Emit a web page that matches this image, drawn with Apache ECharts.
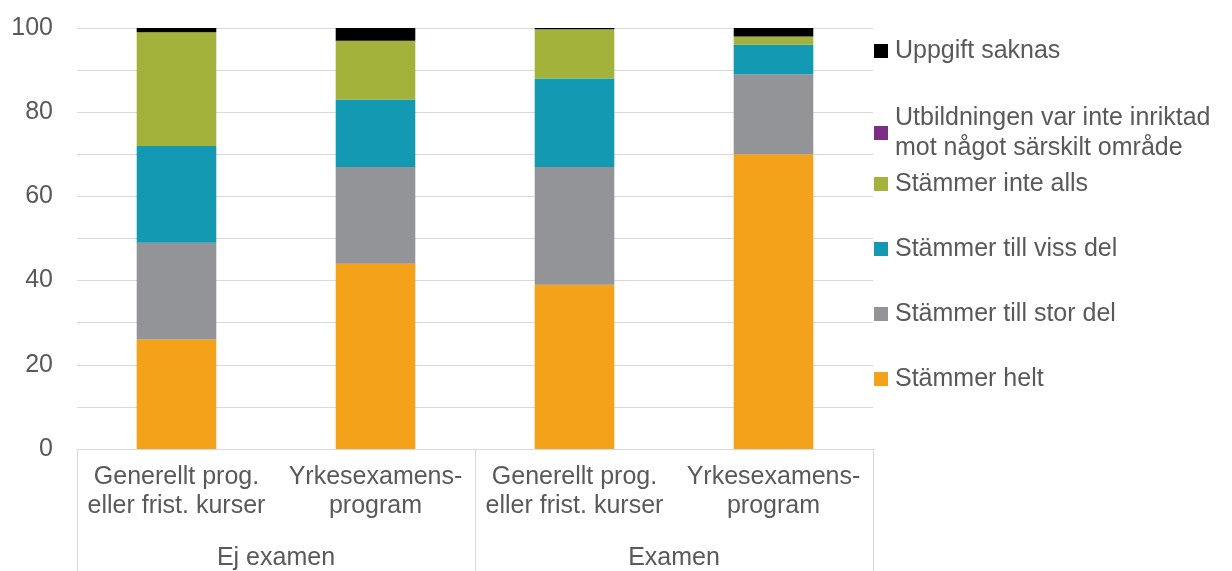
<!DOCTYPE html>
<html>
<head>
<meta charset="utf-8">
<script src="https://cdn.jsdelivr.net/npm/echarts@6/dist/echarts.min.js"></script>
<style>
  html, body { margin: 0; padding: 0; background: #fff; }
  #chart { width: 1232px; height: 571px; }
</style>
</head>
<body>
<div id="chart"></div>
<script>
// kategorier på x-axeln
var categories = ['Generellt prog.\neller frist. kurser', 'Yrkesexamens-\nprogram', 'Generellt prog.\neller frist. kurser', 'Yrkesexamens-\nprogram'];
var groups = ['Ej examen', 'Examen'];
var yTicks = [0, 20, 40, 60, 80, 100];

// andelar (%) per svar
var helt = [26, 44, 39, 70];
var storDel = [23, 23, 28, 19];
var vissDel = [23, 16, 21, 7];
var inteAlls = [27, 14, 11.7, 2];
var ejInriktad = [0, 0, 0, 0];
var saknas = [1, 3, 0.3, 2];

var seriesNames = ['Stämmer helt', 'Stämmer till stor del', 'Stämmer till viss del', 'Stämmer inte alls',
  'Utbildningen var inte inriktad mot något särskilt område', 'Uppgift saknas'];
var seriesData = [helt, storDel, vissDel, inteAlls, ejInriktad, saknas];
var colors = ['#F5A21B', '#929497', '#1399B2', '#A2B23A', '#7B2D83', '#000000'];

var textColor = '#595959';
var font = 'Liberation Sans, Arial, sans-serif';

var chart = echarts.init(document.getElementById('chart'));

var series = seriesNames.map(function (name, i) {
  return {
    name: name,
    type: 'bar',
    stack: 'total',
    barWidth: '40%',
    data: seriesData[i],
    itemStyle: { color: colors[i] }
  };
});

// en legend per post så att avstånden blir som i originalet
var legendTops = [364, 299, 234, 169, 103, 36];
var legends = seriesNames.map(function (name, i) {
  return {
    data: [name],
    orient: 'vertical',
    left: 874,
    top: legendTops[i],
    padding: 0,
    itemWidth: 14,
    itemHeight: 14,
    itemGap: 0,
    icon: 'rect',
    selectedMode: false,
    formatter: function (n) {
      return n === seriesNames[4] ? 'Utbildningen var inte inriktad\nmot något särskilt område' : n;
    },
    textStyle: { fontSize: 25, color: textColor, fontFamily: font, lineHeight: 30, padding: [0, 0, 0, 2] }
  };
});

var option = {
  animation: false,
  color: colors,
  legend: legends,
  grid: { left: 77, right: 359, top: 28, bottom: 121 },
  xAxis: [
    {
      type: 'category',
      data: categories,
      position: 'bottom',
      axisLine: { show: true, lineStyle: { color: '#d9d9d9', width: 1 } },
      axisTick: { show: false },
      axisLabel: { fontSize: 25, color: textColor, fontFamily: font, lineHeight: 29, margin: 14, interval: 0 }
    },
    {
      type: 'category',
      data: groups,
      position: 'bottom',
      axisLine: { show: false },
      axisTick: { show: true, length: 125, interval: 0, lineStyle: { color: '#d9d9d9', width: 1 } },
      axisLabel: { fontSize: 25, color: textColor, fontFamily: font, margin: 97, interval: 0 }
    }
  ],
  yAxis: {
    type: 'value',
    min: 0,
    max: 100,
    interval: 10,
    axisLine: { show: false },
    axisTick: { show: false },
    splitLine: { lineStyle: { color: '#d9d9d9', width: 1 } },
    axisLabel: {
      fontSize: 25, color: textColor, fontFamily: font, margin: 24,
      formatter: function (v) { return yTicks.indexOf(v) >= 0 ? String(v) : ''; }
    }
  },
  series: series
};

chart.setOption(option);
</script>
</body>
</html>
